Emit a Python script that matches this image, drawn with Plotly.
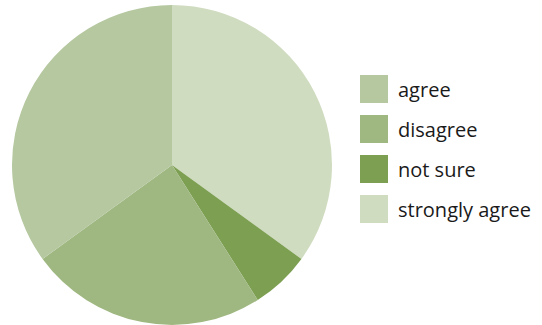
import plotly.graph_objects as go

labels = ["agree", "disagree", "not sure", "strongly agree"]
values = [35, 24, 6, 35]
colors = ["#b5c8a0", "#9fb780", "#7c9f51", "#d0dcc0"]

W, H = 542, 325
fig = go.Figure()
# slices run counterclockwise from 12 o'clock in the reference; draw reversed clockwise
fig.add_trace(go.Pie(
    labels=labels[::-1], values=values[::-1], sort=False, direction="clockwise",
    rotation=0, marker=dict(colors=colors[::-1], line=dict(width=0)),
    textinfo="none", hoverinfo="label+percent", showlegend=False,
    domain=dict(x=[12 / W, 332 / W], y=[0, 0.985]),
))

shapes = []
annotations = []
y0 = 75
step = 40
for i, (lab, col) in enumerate(zip(labels, colors)):
    top = y0 + i * step
    shapes.append(dict(type="rect", xref="paper", yref="paper",
                       x0=360 / W, x1=388 / W, y0=1 - (top + 28) / H, y1=1 - top / H,
                       fillcolor=col, line=dict(width=0)))
    annotations.append(dict(xref="paper", yref="paper", x=398 / W, y=1 - (top + 14) / H,
                            text=lab, showarrow=False, xanchor="left", yanchor="middle",
                            xshift=-2,
                            font=dict(size=20, color="#1a1a1a", family="Open Sans")))

fig.update_layout(width=W, height=H, margin=dict(l=0, r=0, t=0, b=0),
                  paper_bgcolor="white", plot_bgcolor="white",
                  shapes=shapes, annotations=annotations)
fig.write_html("out.html", config={"displayModeBar": False},
               post_script="document.body.style.margin='0';")
